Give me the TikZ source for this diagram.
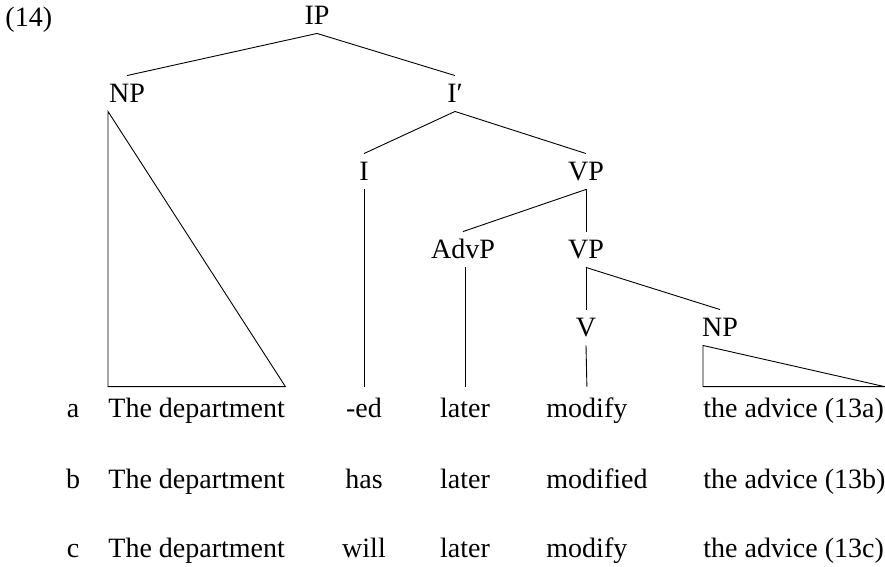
\documentclass[tikz,border=0pt]{standalone}
\usepackage{fontspec}
\setmainfont{Liberation Serif}
\def\levelsep{78}
\newcommand\treefont{\fontsize{28}{34}\selectfont}

\begin{document}
\begin{tikzpicture}[
    x=1pt, y=-1pt,
    line width=0.9pt,
    cat/.style={font=\treefont, inner xsep=0pt, inner ysep=8.25pt, text height=18.5pt, text depth=0pt},
    word/.style={font=\treefont, inner xsep=0pt, inner ysep=11pt, text height=19pt, text depth=6pt}
]
    \useasboundingbox (0,0) rectangle (885,566);

    \node[word, anchor=base west] (ex) at (5,26) {(14)};

    % Draw the category nodes, one level at a time
    \node[cat] (IP)   at (317, 15.5) {IP};
    \node[cat] (NP)   at (127, 15.5+\levelsep) {NP};
    \node[cat] (Ibar) at (455, 15.5+\levelsep) {I′};
    \node[cat] (I)    at (364, 15.5+2*\levelsep) {I};
    \node[cat] (VP)   at (586, 15.5+2*\levelsep) {VP};
    \node[cat] (AdvP) at (463, 15.5+3*\levelsep) {AdvP};
    \node[cat] (VP2)  at (586, 15.5+3*\levelsep) {VP};
    \node[cat] (V)    at (586, 15.5+4*\levelsep) {V};
    \node[cat] (NP2)  at (720, 15.5+4*\levelsep) {NP};

    % Draw the three sentences
    \foreach \row/\y/\au/\vb in {a/417/-ed/modify, b/488/has/modified, c/557/will/modify} {
        \node[word, anchor=base] (L-\row) at (73,\y) {\row};
        \node[word, anchor=base west] (S-\row) at (108,\y) {The department};
        \node[word, anchor=base] (A-\row) at (364,\y) {\au};
        \node[word, anchor=base] (D-\row) at (465,\y) {later};
        \node[word, anchor=base west] (V-\row) at (546,\y) {\vb};
        \node[word, anchor=base west] (O-\row) at (703,\y) {the advice (13\row)};
    }

    % Branches
    \draw (IP.south) -- (NP.north);
    \draw (IP.south) -- (Ibar.north);
    \draw (Ibar.south) -- (I.north);
    \draw (Ibar.south) -- (VP.north);
    \draw (VP.south) -- (AdvP.north);
    \draw (VP.south) -- (VP2.north);
    \draw (VP2.south) -- (V.north);
    \draw (VP2.south) -- (NP2.north);

    % Lines down to the first sentence
    \draw (I.south) -- (A-a.north);
    \draw (D-a.north |- AdvP.south) -- (D-a.north);
    \draw (V.south) -- (V-a.north);

    % Triangles over the noun phrases
    \draw (NP.south -| S-a.north west) -- (S-a.north west) -- (S-a.north east) -- cycle;
    \draw (NP2.south -| O-a.north west) -- (O-a.north west) -- (O-a.north east) -- cycle;
\end{tikzpicture}
\end{document}
